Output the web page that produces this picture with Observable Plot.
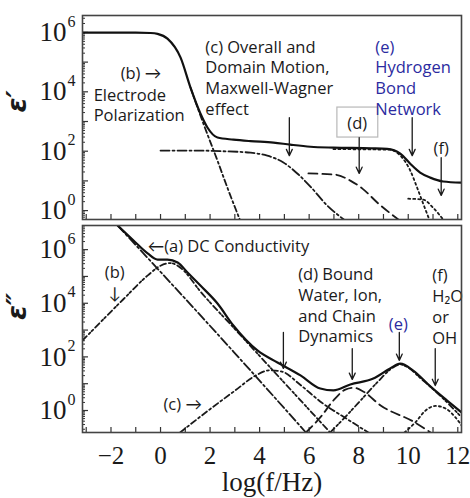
<!DOCTYPE html>
<html><head><meta charset="utf-8">
<script src="https://cdn.jsdelivr.net/npm/d3@7"></script>
<script src="https://cdn.jsdelivr.net/npm/@observablehq/plot@0.6"></script>
<style>
body{margin:0;background:#fff;}
#chart{width:470px;height:498px;}
#chart svg{display:block;}
</style></head><body><div id="chart"></div>
<script>
// ---- axes ----
const xDomain = [-3.15, 12.15];
const xMinorTicks = d3.range(-3, 13);
const xTickLabels = [-2, 0, 2, 4, 6, 8, 10, 12];
const yLabelExps = [0, 2, 4, 6];
const topYExp = [-0.30, 6.57];
const botYExp = [-0.82, 6.90];

// ---- top panel: epsilon' (x = log f, e = log10 eps') ----
const topTotalX = [-3.15,-1.0,-0.4,-0.12,0.28,0.81,1.21,1.61,1.90,2.30,2.94,3.63,4.56,5.24,6.05,6.98,8.5,9.15,9.68,10.08,10.48,10.89,11.41,12.15];
const topTotalE = [5.99,5.99,5.98,5.95,5.79,5.15,4.14,3.27,2.79,2.46,2.39,2.34,2.29,2.22,2.15,2.12,2.10,2.08,1.92,1.58,1.28,1.11,0.98,0.94];
const topBX = [1.21,1.73,2.30,2.70,3.20];
const topBE = [4.14,2.93,1.68,0.77,-0.30];
const topCX = [0.0,1.5,2.5,3.63,4.31,4.96,5.52,6.05,6.73,7.40];
const topCE = [2.02,2.02,2.00,1.95,1.85,1.62,1.25,0.81,0.17,-0.30];
const topDX = [5.97,7.06,7.66,8.15,8.79,9.60];
const topDE = [1.25,1.21,1.01,0.74,0.24,-0.30];
const topEX = [6.98,9.27,9.68,10.08,10.36,10.60,10.85];
const topEE = [2.07,2.05,1.85,1.35,0.77,0.24,-0.30];
const topFX = [10.0,10.6,11.0,11.41];
const topFE = [0.40,0.37,0.10,-0.30];

// ---- bottom panel: epsilon'' ----
const botTotalX = [-1.73,-1.09,-0.52,-0.12,0.28,0.69,1.09,1.61,2.30,2.94,3.91,4.72,5.65,6.45,6.98,7.66,8.59,9.27,9.68,10.2,10.89,11.57,12.15];
const botTotalE = [6.90,6.34,5.86,5.63,5.63,5.52,5.15,4.66,3.99,3.17,2.24,1.79,1.31,0.82,0.75,0.97,1.19,1.57,1.75,1.49,0.90,0.37,-0.07];
const botAX = [-1.73,2.94,5.87];
const botAE = [6.90,2.20,-0.82];
const botBX = [-3.15,-1.5,-0.5,0.0,0.4,0.9,1.6,2.94,6.85];
const botBE = [2.61,4.15,5.05,5.40,5.50,5.25,4.45,3.10,-0.82];
const botCX = [0.79,2.0,3.02,3.83,4.4,4.9,5.65,6.5,7.5,8.39];
const botCE = [-0.82,0.05,0.75,1.30,1.50,1.45,0.95,0.30,-0.30,-0.82];
const botDX = [5.87,6.5,7.0,7.46,7.8,8.2,8.87,10.28,10.9];
const botDE = [-0.82,-0.20,0.40,0.78,0.85,0.70,0.20,-0.45,-0.82];
const botEX = [6.85,7.5,8.2,8.8,9.3,9.68,10.0,10.5,11.0,11.57,12.15];
const botEE = [-0.82,-0.20,0.50,1.10,1.55,1.72,1.60,1.20,0.80,0.30,-0.25];
const botFX = [9.85,10.28,10.7,11.1,11.5,11.9,12.15];
const botFE = [-0.82,-0.45,0.0,0.17,0.08,-0.25,-0.55];

// ---- annotations (data coordinates) ----
const topNotes = [
  {x:-1.61, e:4.66, t:"(b) →", anchor:"start"},
  {x:-2.70, e:3.58, t:"Electrode\nPolarization", anchor:"start"},
  {x:1.81, e:4.49, t:"(c) Overall and\nDomain Motion,\nMaxwell-Wagner\neffect", anchor:"start"},
  {x:8.67, e:4.49, t:"(e)\nHydrogen\nBond\nNetwork", anchor:"start", blue:true},
  {x:7.94, e:2.96, t:"(d)", anchor:"middle"},
  {x:11.33, e:2.12, t:"(f)", anchor:"middle"}
];
const topBox = [{x1:7.14, x2:8.79, e1:2.46, e2:3.47}];
const topArrows = [
  {x:5.20, e1:3.13, e2:1.85},
  {x:8.02, e1:2.46, e2:1.25},
  {x:10.16, e1:3.13, e2:1.85},
  {x:11.33, e1:1.78, e2:0.51}
];
const botNotes = [
  {x:-0.52, e:6.16, t:"←(a) DC Conductivity", anchor:"start"},
  {x:-1.85, e:4.81, t:"(b)\n↓", anchor:"middle"},
  {x:0.12, e:0.26, t:"(c) →", anchor:"start"},
  {x:5.56, e:3.96, t:"(d) Bound\nWater, Ion,\nand Chain\nDynamics", anchor:"start"},
  {x:9.60, e:3.25, t:"(e)", anchor:"middle", blue:true},
  {x:10.97, e:3.90, t:"(f)\nH₂O\nor\nOH", anchor:"start"}
];
const botArrows = [
  {x:4.96, e1:2.91, e2:1.57},
  {x:7.74, e1:2.31, e2:1.16},
  {x:9.64, e1:2.91, e2:1.87},
  {x:11.09, e1:2.31, e2:0.93}
];

// ---- helpers ----
const rows = (xs, es) => xs.map((x, i) => ({x, y: 10 ** es[i]}));
const SERIF = "'Liberation Serif','Times New Roman',serif";
const SANS = "'Open Sans',Lato,sans-serif";
const INK = "#1a1a1a";
const BLUE = "#2b2ba0";

function panel(o) {
  const W = 470, ML = 82, MR = 9;
  const plotW = W - ML - MR;
  const plotH = o.height - o.marginTop - o.marginBottom;
  const [e0, e1] = o.yExp;
  const majors = d3.range(Math.ceil(e0), Math.floor(e1) + 1).map(e => 10 ** e);
  const minors = [];
  for (let e = Math.floor(e0); e <= Math.floor(e1); e++)
    for (let k = 2; k < 10; k++) { const v = k * 10 ** e; if (v >= 10 ** e0 && v <= 10 ** e1) minors.push(v); }
  const lineOpts = (extra) => Object.assign({x: "x", y: "y", stroke: INK, strokeWidth: 1.8, curve: "monotone-x", clip: true}, extra);
  const marks = [
    Plot.tickY(majors, {y: d => d, insetRight: plotW - 6, stroke: "#333", strokeWidth: 1.2}),
    Plot.tickY(minors, {y: d => d, insetRight: plotW - 3, stroke: "#333", strokeWidth: 1}),
    Plot.tickX(xMinorTicks, {x: d => d, insetTop: plotH - 5, stroke: "#333", strokeWidth: 1.2}),
    Plot.text(yLabelExps, {frameAnchor: "left", y: e => 10 ** e, text: () => "10", textAnchor: "end", dx: -16, fontSize: 27, fontFamily: SERIF, fill: INK}),
    Plot.text(yLabelExps, {frameAnchor: "left", y: e => 10 ** e, text: e => String(e), textAnchor: "start", dx: -15, dy: -11, fontSize: 16, fontFamily: SERIF, fill: INK}),
    Plot.text([o.title], {frameAnchor: "left", lineAnchor: "middle", dx: -65, dy: o.titleDy, rotate: -90, fontSize: 27, fontWeight: "bold", fontStyle: "italic", fontFamily: "'DejaVu Sans',sans-serif", fill: INK})
  ];
  for (const s of o.series) marks.push(Plot.line(s.data, lineOpts(s.style)));
  if (o.box) marks.push(Plot.rect(o.box, {x1: "x1", x2: "x2", y1: d => 10 ** d.e1, y2: d => 10 ** d.e2, fill: "white", stroke: "#b8b8b8", strokeWidth: 1.2}));
  marks.push(Plot.arrow(o.arrows, {x1: "x", x2: "x", y1: d => 10 ** d.e1, y2: d => 10 ** d.e2, stroke: INK, strokeWidth: 1.3, headLength: 8, headAngle: 50}));
  for (const n of o.notes) marks.push(Plot.text([n], {x: "x", y: d => 10 ** d.e, text: "t", textAnchor: n.anchor, lineAnchor: "middle", lineHeight: 1.27, fontSize: 16.5, fontFamily: SANS, fill: n.blue ? BLUE : INK}));
  if (o.xAxis) {
    marks.push(Plot.text(xTickLabels, {x: d => d, frameAnchor: "bottom", lineAnchor: "middle", dy: 23, text: d => d < 0 ? "\u2212" + (-d) : String(d), fontSize: 25, fontFamily: SERIF, fill: INK}));
    marks.push(Plot.text(["log(f/Hz)"], {frameAnchor: "bottom", lineAnchor: "middle", dy: 50, fontSize: 27, fontFamily: SERIF, fill: INK}));
  }
  marks.push(Plot.frame({stroke: "#444", strokeWidth: 1.6}));
  return Plot.plot({
    width: W, height: o.height,
    marginLeft: ML, marginRight: MR, marginTop: o.marginTop, marginBottom: o.marginBottom,
    x: {domain: xDomain, axis: null},
    y: {type: "log", domain: [10 ** e0, 10 ** e1], axis: null},
    style: {background: "white", overflow: "visible"},
    marks
  });
}

const dashDot = {strokeDasharray: "9,3,2,3"};
const dashDot2 = {strokeDasharray: "6,3,2,3"};
const dashDotDot = {strokeDasharray: "6,3,2,2,2,3"};
const dashed = {strokeDasharray: "9,5"};
const dotted = {strokeDasharray: "2,3"};
const solid = {strokeWidth: 2.2, stroke: "#111"};

const topPlot = panel({
  height: 222, marginTop: 15, marginBottom: 3, yExp: topYExp, title: "ε′", titleDy: -5,
  series: [
    {data: rows(topBX, topBE), style: dashDot2},
    {data: rows(topCX, topCE), style: dashDot},
    {data: rows(topDX, topDE), style: dashed},
    {data: rows(topEX, topEE), style: dotted},
    {data: rows(topFX, topFE), style: dotted},
    {data: rows(topTotalX, topTotalE), style: solid}
  ],
  notes: topNotes, arrows: topArrows, box: topBox, xAxis: false
});
const botPlot = panel({
  height: 276, marginTop: 3, marginBottom: 66, yExp: botYExp, title: "ε″", titleDy: -9,
  series: [
    {data: rows(botAX, botAE), style: dashDot},
    {data: rows(botBX, botBE), style: dashDotDot},
    {data: rows(botCX, botCE), style: dashDot2},
    {data: rows(botDX, botDE), style: dashed},
    {data: rows(botEX, botEE), style: dashDotDot},
    {data: rows(botFX, botFE), style: dotted},
    {data: rows(botTotalX, botTotalE), style: solid}
  ],
  notes: botNotes, arrows: botArrows, box: null, xAxis: true
});
document.getElementById("chart").append(topPlot, botPlot);
</script></body></html>
